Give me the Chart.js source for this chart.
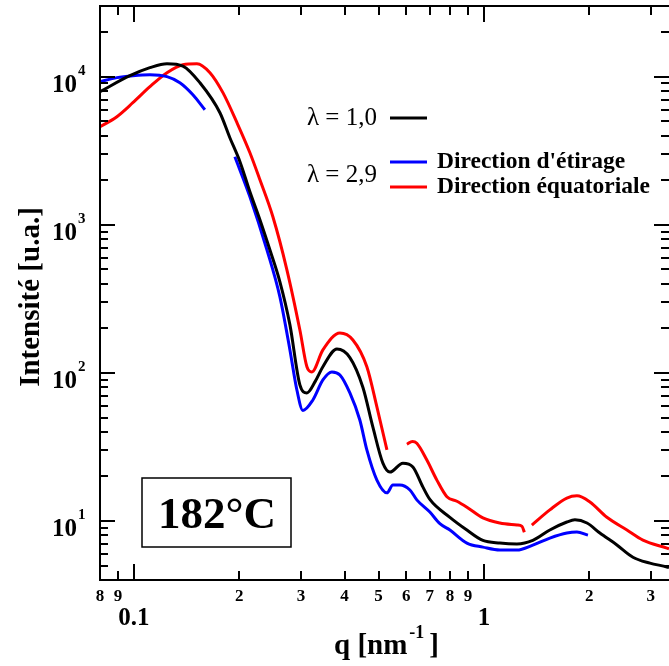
<!DOCTYPE html>
<html lang="fr">
<head>
    <meta charset="UTF-8">
    <title>Intensité 182°C</title>
    <script src="https://cdn.jsdelivr.net/npm/chart.js@4.4.1/dist/chart.umd.min.js"></script>
    <style>
        body { margin: 0; background: #fff; }
        .chart-box { width: 669px; height: 666px; position: relative; }
    </style>
</head>
<body>
    <div class="chart-box"><canvas id="saxsChart"></canvas></div>

    <script>
        // values, q in nm^-1, intensity in u.a.
        // lambda = 1,0
        const blackQ = [0.080, 0.0974, 0.1111, 0.1243, 0.1380, 0.1544, 0.1761, 0.1880, 0.2009, 0.2145, 0.2291, 0.2446, 0.2613, 0.2791, 0.2980, 0.3121, 0.3300, 0.3467, 0.3802, 0.4141, 0.4510, 0.4818, 0.5145, 0.5389, 0.5869, 0.6268, 0.6692, 0.7008, 0.7996, 0.8942, 0.9934, 1.111, 1.243, 1.380, 1.543, 1.726, 1.820, 1.970, 2.145, 2.399, 2.666, 2.981, 3.334, 3.38];
        const blackI = [7920, 10150, 11500, 12240, 11800, 9100, 5710, 3870, 2666, 1671, 1081, 678, 412, 211, 83, 73.3, 88, 110, 145, 127, 80, 43, 24.6, 21.4, 24.6, 23.2, 17.0, 14.0, 10.6, 8.7, 7.4, 7.1, 7.0, 7.4, 8.7, 9.85, 10.2, 9.7, 8.3, 6.9, 5.7, 5.2, 4.9, 4.85];

        // lambda = 2,9 - direction d'etirage (null = gap in the data)
        const blueQ = [0.080, 0.0894, 0.0993, 0.1111, 0.1243, 0.1353, 0.1474, 0.1595, 0.177, 0.1943, 0.2145, 0.2399, 0.2613, 0.2791, 0.2922, 0.3040, 0.3246, 0.3467, 0.3678, 0.3878, 0.4141, 0.4421, 0.4630, 0.4946, 0.5284, 0.5495, 0.5754, 0.6146, 0.6432, 0.7008, 0.7486, 0.7996, 0.8942, 0.9934, 1.111, 1.243, 1.380, 1.543, 1.726, 1.844, 1.983];
        const blueI = [9250, 9850, 10160, 10320, 10000, 9110, 7555, 5984, null, 2880, 1546, 678, 326, 143, 76.7, 55.8, 65.7, 89.7, 101.6, 96.9, 73.3, 48.1, 30.2, 18.9, 15.5, 17.5, 17.5, 16.2, 13.9, 11.5, 9.6, 8.7, 7.1, 6.67, 6.37, 6.37, 6.88, 7.67, 8.3, 8.43, 8.04];

        // lambda = 2,9 - direction equatoriale
        const redQ = [0.080, 0.0894, 0.0993, 0.1111, 0.1243, 0.1380, 0.1514, 0.1649, 0.1796, 0.1970, 0.2145, 0.2291, 0.2495, 0.2736, 0.2980, 0.3121, 0.3225, 0.3467, 0.3878, 0.4224, 0.4630, 0.4946, 0.5284, 0.565, 0.6026, 0.6250, 0.6432, 0.6871, 0.7339, 0.7840, 0.8373, 0.8942, 0.9934, 1.111, 1.243, 1.285, 1.305, 1.34, 1.371, 1.543, 1.726, 1.844, 2.009, 2.246, 2.563, 2.847, 3.334, 3.38];
        const redI = [4590, 5370, 6670, 8560, 10640, 12050, 12240, 10640, 7800, 4890, 3065, 2013, 1133, 497, 195, 110, 101.6, 143, 186, 167, 110, 59, 30.2, null, 33, 34.5, 33.5, 25.8, 18.9, 14.6, 13.6, 12.4, 10.5, 9.7, 9.4, 9.2, 8.4, null, 9.4, 11.9, 14.3, 14.8, 13.45, 10.6, 8.7, 7.44, 6.57, 6.5];

        // axis ticks and labels
        const xMajorTicks = [0.1, 1];
        const xMajorLabels = ['0.1', '1'];
        const xMinorTicks = [0.08, 0.09, 0.2, 0.3, 0.4, 0.5, 0.6, 0.7, 0.8, 0.9, 2, 3];
        const xMinorLabels = ['8', '9', '2', '3', '4', '5', '6', '7', '8', '9', '2', '3'];
        const yMajorTicks = [10, 100, 1000, 10000];
        const yExponents = ['1', '2', '3', '4'];
        const yMinorTicks = [4, 5, 6, 7, 8, 9, 20, 30, 40, 50, 60, 70, 80, 90, 200, 300, 400, 500, 600, 700, 800, 900, 2000, 3000, 4000, 5000, 6000, 7000, 8000, 9000, 20000, 30000];

        const toPoints = (qs, is) => qs.map((q, i) => ({ x: q, y: is[i] }));

        const serif = "'Liberation Serif', 'Times New Roman', serif";

        // frame, inward ticks, labels, legend and the temperature box
        const decorations = {
            id: 'decorations',
            afterDatasetsDraw(chart) {
                const { ctx, chartArea: a, scales: { x, y } } = chart;
                ctx.save();
                ctx.strokeStyle = '#000';
                ctx.fillStyle = '#000';
                ctx.lineWidth = 2;
                ctx.strokeRect(a.left, a.top, a.right - a.left + 3, a.bottom - a.top);

                const hTick = (py, len) => {
                    ctx.beginPath();
                    ctx.moveTo(a.left, py); ctx.lineTo(a.left + len, py);
                    ctx.moveTo(a.right, py); ctx.lineTo(a.right - len, py);
                    ctx.stroke();
                };
                const vTick = (px, len) => {
                    ctx.beginPath();
                    ctx.moveTo(px, a.bottom); ctx.lineTo(px, a.bottom - len);
                    ctx.moveTo(px, a.top); ctx.lineTo(px, a.top + len);
                    ctx.stroke();
                };
                yMajorTicks.forEach(v => hTick(Math.round(y.getPixelForValue(v)), 15));
                yMinorTicks.forEach(v => hTick(Math.round(y.getPixelForValue(v)), 8));
                xMajorTicks.forEach(v => vTick(Math.round(x.getPixelForValue(v)), 16));
                xMinorTicks.forEach(v => vTick(Math.round(x.getPixelForValue(v)), 9));

                // y tick labels 10^n
                yMajorTicks.forEach((v, i) => {
                    const py = y.getPixelForValue(v);
                    ctx.font = 'bold 25px ' + serif;
                    ctx.textAlign = 'right';
                    ctx.fillText('10', 77, py + 15);
                    ctx.font = 'bold 15px ' + serif;
                    ctx.textAlign = 'left';
                    ctx.fillText(yExponents[i], 78, py - 2);
                });

                // x tick labels
                ctx.textAlign = 'center';
                ctx.font = 'bold 17px ' + serif;
                xMinorTicks.forEach((v, i) => ctx.fillText(xMinorLabels[i], x.getPixelForValue(v), a.bottom + 21));
                ctx.font = 'bold 25px ' + serif;
                xMajorTicks.forEach((v, i) => ctx.fillText(xMajorLabels[i], x.getPixelForValue(v), a.bottom + 45));

                // x title q [nm^-1]
                ctx.textAlign = 'left';
                let tx = 334;
                ctx.font = 'bold 29px ' + serif;
                ctx.fillText('q [nm', tx, 654);
                tx += ctx.measureText('q [nm').width + 2;
                ctx.font = 'bold 18px ' + serif;
                ctx.fillText('-1', tx, 638);
                tx += ctx.measureText('-1').width + 5;
                ctx.font = 'bold 29px ' + serif;
                ctx.fillText(']', tx, 654);

                // y title
                ctx.save();
                ctx.translate(39, 297);
                ctx.rotate(-Math.PI / 2);
                ctx.textAlign = 'center';
                ctx.font = 'bold 29px ' + serif;
                ctx.fillText('Intensité [u.a.]', 0, 0);
                ctx.restore();

                // legend
                ctx.textAlign = 'left';
                ctx.font = '25px ' + serif;
                ctx.fillText('λ = 1,0', 307, 125);
                ctx.fillText('λ = 2,9', 307, 182);
                ctx.lineWidth = 3;
                [['#000', 118], ['#0000ff', 162], ['#ff0000', 187]].forEach(([c, ly]) => {
                    ctx.strokeStyle = c;
                    ctx.beginPath();
                    ctx.moveTo(390, ly); ctx.lineTo(427, ly);
                    ctx.stroke();
                });
                ctx.font = 'bold 23.5px ' + serif;
                ctx.fillText("Direction d'étirage", 437, 168);
                ctx.fillText('Direction équatoriale', 437, 193);

                // temperature box
                ctx.strokeStyle = '#000';
                ctx.lineWidth = 1.5;
                ctx.fillStyle = '#fff';
                ctx.fillRect(142, 478, 149, 69);
                ctx.strokeRect(142, 478, 149, 69);
                ctx.fillStyle = '#000';
                ctx.textAlign = 'center';
                ctx.font = 'bold 45px ' + serif;
                ctx.fillText('182°C', 217, 528);
                ctx.restore();
            }
        };

        const lineStyle = color => ({
            borderColor: color,
            backgroundColor: color,
            borderWidth: 3,
            pointRadius: 0,
            cubicInterpolationMode: 'monotone',
            spanGaps: false,
            fill: false
        });

        const ctx = document.getElementById('saxsChart').getContext('2d');
        new Chart(ctx, {
            type: 'line',
            data: {
                datasets: [
                    { label: 'λ = 1,0', data: toPoints(blackQ, blackI), ...lineStyle('#000000') },
                    { label: "Direction d'étirage", data: toPoints(blueQ, blueI), ...lineStyle('#0000ff') },
                    { label: 'Direction équatoriale', data: toPoints(redQ, redI), ...lineStyle('#ff0000') }
                ]
            },
            options: {
                responsive: true,
                maintainAspectRatio: false,
                animation: false,
                layout: { padding: { top: 6, right: 0, left: 0, bottom: 0 } },
                plugins: {
                    legend: { display: false },
                    tooltip: { enabled: false },
                    title: { display: false }
                },
                scales: {
                    x: {
                        type: 'logarithmic',
                        min: 0.08,
                        max: 3.38,
                        ticks: { display: false },
                        grid: { display: false },
                        border: { display: false },
                        afterFit: s => { s.height = 86; }
                    },
                    y: {
                        type: 'logarithmic',
                        min: 4,
                        max: 30000,
                        ticks: { display: false },
                        grid: { display: false },
                        border: { display: false },
                        afterFit: s => { s.width = 100; }
                    }
                }
            },
            plugins: [decorations]
        });
    </script>
</body>
</html>
